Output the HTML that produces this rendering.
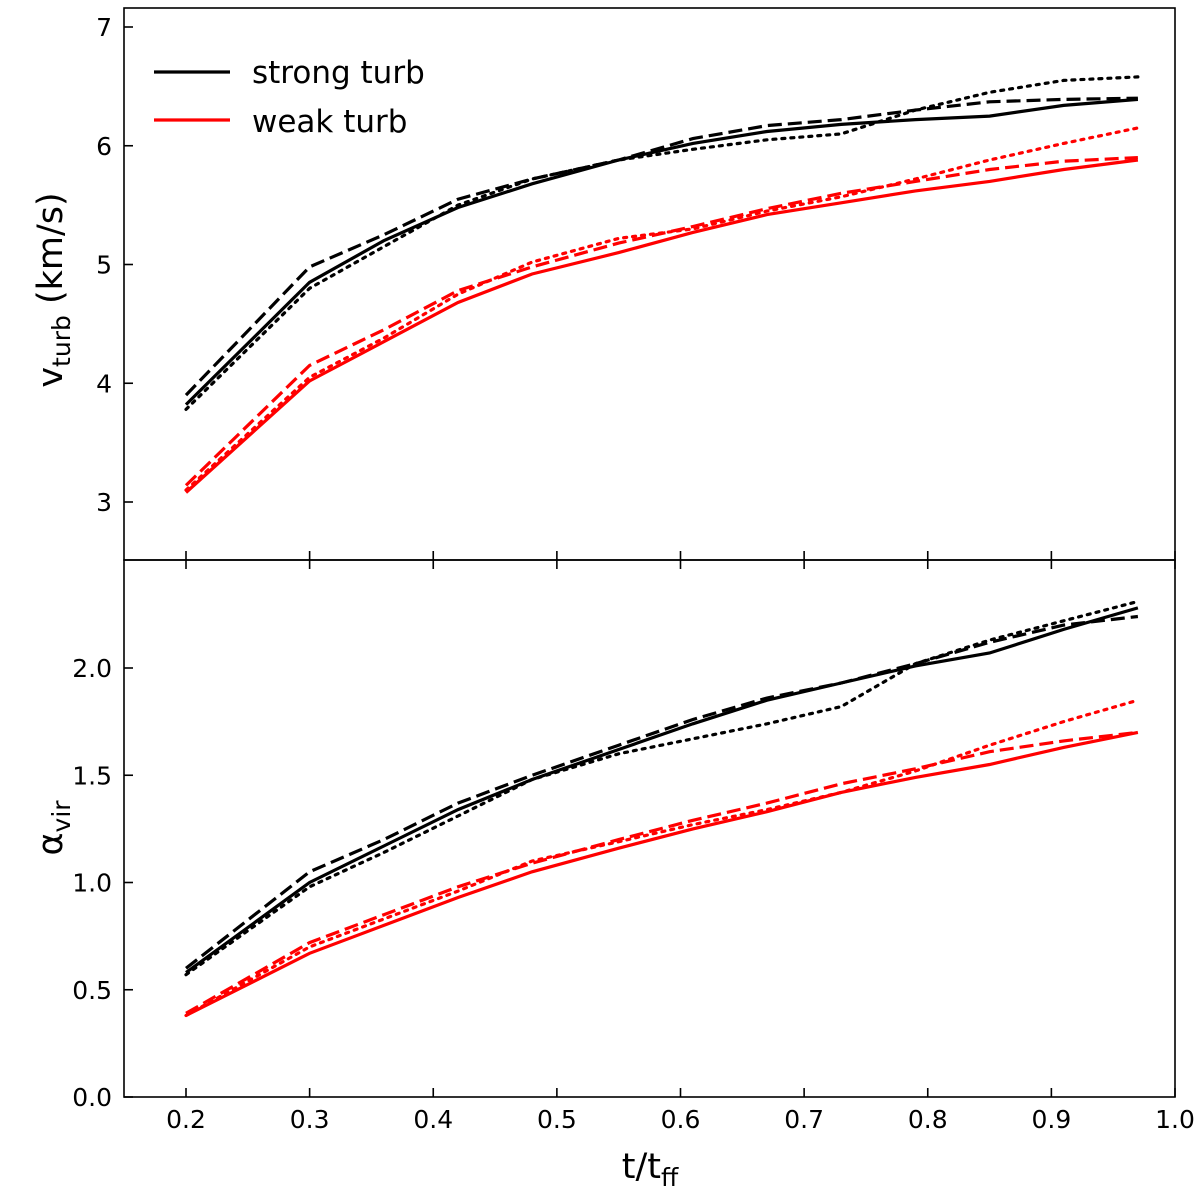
<!DOCTYPE html>
<html><head><meta charset="utf-8"><style>
body{margin:0;background:#fff}
svg{display:block;font-family:"DejaVu Sans","Liberation Sans",sans-serif}
</style></head><body>
<svg id="chart" width="1200" height="1202" viewBox="0 0 1200 1202"></svg>
<script>
const times = [0.2,0.3,0.36,0.42,0.48,0.55,0.61,0.67,0.73,0.79,0.85,0.91,0.97];
const vStrongSolid = [3.82,4.85,5.2,5.48,5.68,5.88,6.02,6.12,6.18,6.22,6.25,6.34,6.39];
const vStrongDashed = [3.9,4.98,5.25,5.55,5.72,5.88,6.06,6.17,6.22,6.3,6.37,6.39,6.40];
const vStrongDotted = [3.78,4.8,5.15,5.5,5.72,5.88,5.97,6.05,6.1,6.3,6.45,6.55,6.58];
const vWeakSolid = [3.08,4.02,4.35,4.68,4.92,5.1,5.27,5.42,5.52,5.62,5.7,5.8,5.88];
const vWeakDashed = [3.14,4.15,4.45,4.78,4.98,5.18,5.32,5.47,5.6,5.7,5.8,5.87,5.9];
const vWeakDotted = [3.1,4.05,4.38,4.75,5.02,5.22,5.3,5.45,5.57,5.72,5.88,6.02,6.15];
const aStrongSolid = [0.58,1.0,1.17,1.34,1.48,1.62,1.74,1.85,1.93,2.01,2.07,2.18,2.28];
const aStrongDashed = [0.6,1.05,1.2,1.37,1.5,1.64,1.76,1.86,1.93,2.02,2.12,2.2,2.24];
const aStrongDotted = [0.57,0.98,1.14,1.31,1.48,1.6,1.67,1.74,1.82,2.02,2.13,2.22,2.31];
const aWeakSolid = [0.38,0.67,0.8,0.93,1.05,1.16,1.25,1.33,1.42,1.49,1.55,1.63,1.7];
const aWeakDashed = [0.39,0.72,0.85,0.98,1.09,1.2,1.29,1.37,1.46,1.53,1.61,1.66,1.7];
const aWeakDotted = [0.38,0.7,0.83,0.96,1.1,1.19,1.27,1.34,1.42,1.52,1.64,1.75,1.85];
const xTicks = [0.2,0.3,0.4,0.5,0.6,0.7,0.8,0.9,1.0];
const xTickLabels = ["0.2","0.3","0.4","0.5","0.6","0.7","0.8","0.9","1.0"];
const vTicks = [3,4,5,6,7];
const aTicks = [0,0.5,1.0,1.5,2.0];
const aTickLabels = ["0.0","0.5","1.0","1.5","2.0"];

const NS="http://www.w3.org/2000/svg";
const svg=document.getElementById('chart');
function mk(tag,attrs,parent){const e=document.createElementNS(NS,tag);for(const k in attrs)e.setAttribute(k,attrs[k]);(parent||svg).appendChild(e);return e;}
const L=124,R=1175,TK=9;
const xS=v=>186+(v-0.2)*1236.25;
const topP={t:8,b:560,y:v=>27+(7-v)*118.75};
const botP={t:560,b:1097,y:v=>1097-v*214.5};
const styles={solid:"",dashed:"14,6",dotted:"3,6"};

function series(panel,arr,color,style,name){
  const d=times.map((t,i)=>(i?"L":"M")+xS(t).toFixed(1)+","+panel.y(arr[i]).toFixed(1)).join("");
  const p=mk('path',{d:d,fill:"none",stroke:color,"stroke-width":3.2,"stroke-dasharray":styles[style],"stroke-linecap":style==="dotted"?"round":"butt"});
  
  
}
function frame(panel,name,topTicks){
  const r=mk('rect',{x:L,y:panel.t,width:R-L,height:panel.b-panel.t,fill:"none",stroke:"#000","stroke-width":1.6});
  
  
  xTicks.forEach(v=>{const x=xS(v);
    mk('line',{x1:x,x2:x,y1:panel.b,y2:panel.b-TK,stroke:"#000","stroke-width":1.6});
    if(topTicks) mk('line',{x1:x,x2:x,y1:panel.t,y2:panel.t+TK,stroke:"#000","stroke-width":1.6});
  });
}
frame(topP,'top-panel-frame',false);
vTicks.forEach(v=>{const y=topP.y(v);
  mk('line',{x1:L,x2:L+TK,y1:y,y2:y,stroke:"#000","stroke-width":1.6});
  const t=mk('text',{x:112,y:y+9,"text-anchor":"end","font-size":25});t.textContent=String(v);
  
  
});
series(topP,vStrongSolid,"#000","solid","v-strong-solid");
series(topP,vStrongDashed,"#000","dashed","v-strong-dashed");
series(topP,vStrongDotted,"#000","dotted","v-strong-dotted");
series(topP,vWeakSolid,"#f00","solid","v-weak-solid");
series(topP,vWeakDashed,"#f00","dashed","v-weak-dashed");
series(topP,vWeakDotted,"#f00","dotted","v-weak-dotted");
frame(botP,'bottom-panel-frame',true);
aTicks.forEach((v,i)=>{const y=botP.y(v);
  mk('line',{x1:L,x2:L+TK,y1:y,y2:y,stroke:"#000","stroke-width":1.6});
  const t=mk('text',{x:112,y:y+9,"text-anchor":"end","font-size":25});t.textContent=aTickLabels[i];
  
  
});
xTicks.forEach((v,i)=>{const t=mk('text',{x:xS(v),y:1128,"text-anchor":"middle","font-size":25});t.textContent=xTickLabels[i];
  
  
});
series(botP,aStrongSolid,"#000","solid","alpha-strong-solid");
series(botP,aStrongDashed,"#000","dashed","alpha-strong-dashed");
series(botP,aStrongDotted,"#000","dotted","alpha-strong-dotted");
series(botP,aWeakSolid,"#f00","solid","alpha-weak-solid");
series(botP,aWeakDashed,"#f00","dashed","alpha-weak-dashed");
series(botP,aWeakDotted,"#f00","dotted","alpha-weak-dotted");
</script>
<svg style="position:absolute;left:0;top:0" width="1200" height="1202">
  <g font-family="DejaVu Sans, sans-serif" font-size="31">
    <line x1="154" x2="230" y1="72" y2="72" stroke="#000" stroke-width="3.2"/>
    <text x="252" y="83">strong turb</text>
    <line x1="154" x2="230" y1="120" y2="120" stroke="#f00" stroke-width="3.2"/>
    <text x="252" y="132">weak turb</text>
  </g>
  <text transform="translate(62,290) rotate(-90)" text-anchor="middle" font-family="DejaVu Sans, sans-serif" font-size="35">v<tspan font-size="25" dy="8">turb</tspan><tspan dy="-8"> (km/s)</tspan></text>
  <text transform="translate(62,828) rotate(-90)" text-anchor="middle" font-family="DejaVu Sans, sans-serif" font-size="35">α<tspan font-size="25" dy="8">vir</tspan></text>
  <text x="650" y="1178" text-anchor="middle" font-family="DejaVu Sans, sans-serif" font-size="35">t/t<tspan font-size="25" dy="8">ff</tspan></text>
</svg>
</body></html>
